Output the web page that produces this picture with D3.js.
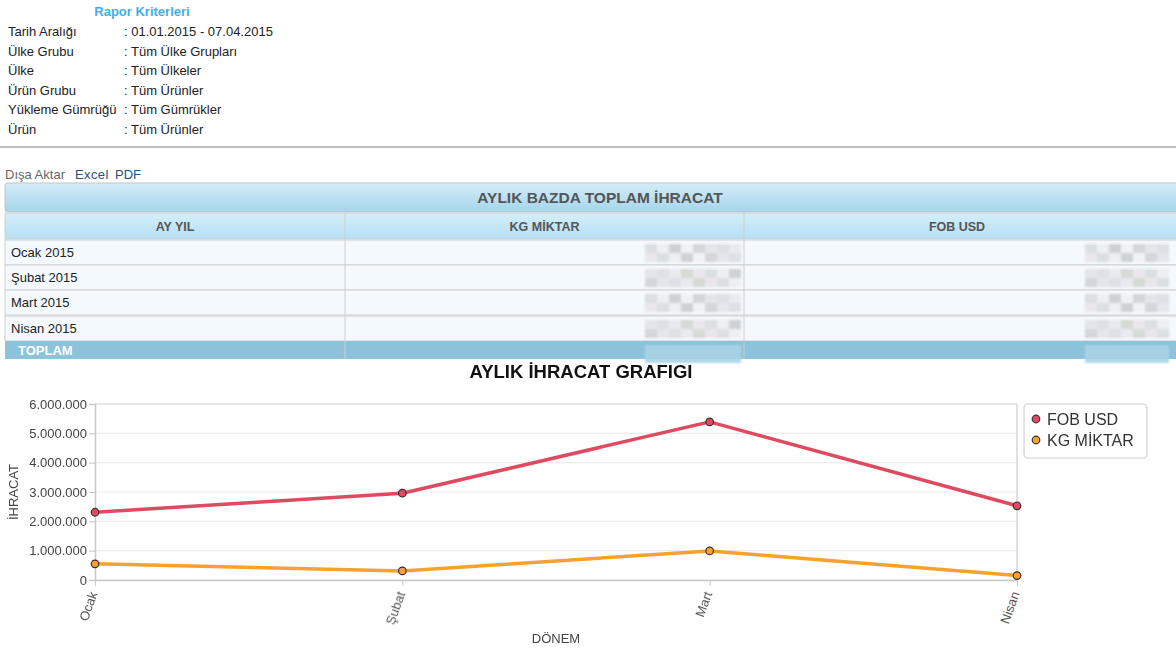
<!DOCTYPE html>
<html><head><meta charset="utf-8">
<script src="https://cdn.jsdelivr.net/npm/d3@7"></script>
<style>
body{margin:0;background:#fff;font-family:"Liberation Sans",Arial,sans-serif;}
svg{display:block}
</style></head>
<body>
<svg id="c" width="1176" height="650"></svg>
<script>
// ---- data ----
const criteriaLabels = ["Tarih Aralığı","Ülke Grubu","Ülke","Ürün Grubu","Yükleme Gümrüğü","Ürün"];
const criteriaValues = [": 01.01.2015 - 07.04.2015",": Tüm Ülke Grupları",": Tüm Ülkeler",": Tüm Ürünler",": Tüm Gümrükler",": Tüm Ürünler"];
const tableColumns = ["AY YIL","KG MİKTAR","FOB USD"];
const tableRows = ["Ocak 2015","Şubat 2015","Mart 2015","Nisan 2015"];
const months = ["Ocak","Şubat","Mart","Nisan"];
const fobUsd = [2310000, 2960000, 5390000, 2530000];
const kgMiktar = [550000, 310000, 990000, 150000];
const yTicks = [0,1000000,2000000,3000000,4000000,5000000,6000000];
const seriesNames = ["FOB USD","KG MİKTAR"];
const seriesColors = ["#de4a60","#f7a12e"];
const mosaicShades = ["#d8dbe0","#e6e8ec","#cfd2d6","#eceef1","#d3d6d0","#e1e3e8","#c9cdd2","#e9e4ea","#dadde2","#f0f2f4"];

const svg = d3.select("#c");
const font = '"Liberation Sans",Arial,sans-serif';

// ---- criteria block ----
svg.append("text").attr("x",142).attr("y",16).attr("text-anchor","middle")
  .attr("font-size",13).attr("font-weight","bold").attr("fill","#3fb0e6").text("Rapor Kriterleri");
criteriaLabels.forEach((l,i)=>{
  const y = 36 + i*19.5;
  svg.append("text").attr("x",8).attr("y",y).attr("font-size",13).attr("fill","#222").text(l);
  svg.append("text").attr("x",124).attr("y",y).attr("font-size",13).attr("fill","#222").text(criteriaValues[i]);
});
svg.append("rect").attr("x",0).attr("y",146).attr("width",1176).attr("height",2).attr("fill","#bdbdbd");

// ---- export line ----
svg.append("text").attr("x",5).attr("y",179).attr("font-size",13).attr("fill","#666").text("Dışa Aktar");
svg.append("text").attr("x",75).attr("y",179).attr("font-size",13).attr("fill","#2d4f73").attr("letter-spacing",0.4).text("Excel");
svg.append("text").attr("x",115).attr("y",179).attr("font-size",13).attr("fill","#2d4f73").text("PDF");

// ---- table ----
const defs = svg.append("defs");
const g1 = defs.append("linearGradient").attr("id","gTitle").attr("x1",0).attr("y1",0).attr("x2",0).attr("y2",1);
g1.append("stop").attr("offset","0%").attr("stop-color","#d4edf9");
g1.append("stop").attr("offset","100%").attr("stop-color","#a5d4ea");
const g2 = defs.append("linearGradient").attr("id","gHead").attr("x1",0).attr("y1",0).attr("x2",0).attr("y2",1);
g2.append("stop").attr("offset","0%").attr("stop-color","#d3eefa");
g2.append("stop").attr("offset","100%").attr("stop-color","#b6e0f3");
defs.append("filter").attr("id","blur").append("feGaussianBlur").attr("stdDeviation",1.2);

const tX = 5, tW = 1180;
const colX = [5,345,744,1185];
svg.append("rect").attr("x",tX).attr("y",183).attr("width",tW).attr("height",29).attr("rx",3)
  .attr("fill","url(#gTitle)").attr("stroke","#c3c3c3");
svg.append("text").attr("x",600).attr("y",203).attr("text-anchor","middle").attr("font-size",15.5)
  .attr("font-weight","bold").attr("fill","#555").text("AYLIK BAZDA TOPLAM İHRACAT");
svg.append("rect").attr("x",tX).attr("y",213).attr("width",tW).attr("height",26).attr("fill","url(#gHead)").attr("stroke","#d0d0d0");
tableColumns.forEach((c,i)=>{
  svg.append("text").attr("x",(colX[i]+Math.min(colX[i+1],1176))/2+ (i==2?-3:0)).attr("y",231).attr("text-anchor","middle")
    .attr("font-size",12.5).attr("font-weight","bold").attr("fill","#555").text(c);
});
const rowY = [240,265,290,316];
const rowH = 25;
tableRows.forEach((r,i)=>{
  svg.append("rect").attr("x",tX).attr("y",rowY[i]).attr("width",tW).attr("height",rowH)
    .attr("fill","#f3f9fd").attr("stroke","#cfcfcf");
  svg.append("text").attr("x",11).attr("y",rowY[i]+17).attr("font-size",13).attr("fill","#222").text(r);
});
svg.append("rect").attr("x",tX).attr("y",341).attr("width",tW).attr("height",18).attr("fill","#8cc2da");
svg.append("text").attr("x",18).attr("y",355).attr("font-size",13).attr("font-weight","bold").attr("fill","#fff").text("TOPLAM");
colX.slice(1,3).forEach(x=>{
  svg.append("line").attr("x1",x).attr("x2",x).attr("y1",213).attr("y2",359).attr("stroke","#cfcfcf");
});
// blurred (masked) numbers
const mosaic = svg.append("g").attr("filter","url(#blur)");
[[645,745],[1085,1176]].forEach(([x0,x1])=>{
  [240,265,290,316,341].forEach((y0,ri)=>{
    for(let k=0;k<Math.floor((x1-x0)/12);k++){
      for(let m=0;m<2;m++){
        mosaic.append("rect").attr("x",x0+k*12).attr("y",y0+4+m*9).attr("width",12).attr("height",9)
          .attr("fill", ri==4 ? "#a9d3e6" : mosaicShades[(k*3+m*7+ri*5)%mosaicShades.length])
          .attr("opacity",0.9);
      }
    }
  });
});

// ---- chart ----
svg.append("text").attr("x",581).attr("y",378).attr("text-anchor","middle").attr("font-size",18.5)
  .attr("font-weight","bold").attr("fill","#111").text("AYLIK İHRACAT GRAFIGI");

const pL=95, pR=1017, pT=404, pB=580;
const x = d3.scalePoint().domain(months).range([pL,pR]).padding(0);
const y = d3.scaleLinear().domain([0,6000000]).range([pB,pT]);
const fmt = d => d3.format(",")(d).replace(/,/g,".");

// grid
svg.append("g").selectAll("line").data(yTicks).join("line")
  .attr("x1",pL).attr("x2",pR).attr("y1",d=>y(d)).attr("y2",d=>y(d))
  .attr("stroke",d=>d==6000000?"#cfcfcf":"#ececec").attr("stroke-width",1.2);
svg.append("line").attr("x1",pR).attr("x2",pR).attr("y1",pT).attr("y2",pB).attr("stroke","#d6d6d6").attr("stroke-width",1.5);

// y axis
const ya = svg.append("g").attr("transform",`translate(${pL},0)`)
  .call(d3.axisLeft(y).tickValues(yTicks).tickFormat(fmt).tickSize(6).tickPadding(2));
ya.select(".domain").attr("stroke","#c8c8c8").attr("stroke-width",1.5);
ya.selectAll(".tick line").attr("stroke","#c8c8c8");
ya.selectAll("text").attr("font-size",13).attr("fill","#444").attr("font-family",font);

// x axis
const xa = svg.append("g").attr("transform",`translate(0,${pB})`)
  .call(d3.axisBottom(x).tickSize(6).tickSizeOuter(0));
xa.select(".domain").attr("stroke","#c8c8c8").attr("stroke-width",1.5);
xa.selectAll(".tick line").attr("stroke","#c8c8c8");
xa.selectAll("text").attr("font-size",13).attr("fill","#555").attr("font-family",font)
  .attr("text-anchor","end").attr("dy","0.35em")
  .attr("transform","translate(-2,12) rotate(-70)").attr("y",0).attr("x",0);

// axis titles
svg.append("text").attr("transform",`translate(18,${(pT+pB)/2}) rotate(-90)`).attr("text-anchor","middle")
  .attr("font-size",13).attr("fill","#444").text("İHRACAT");
svg.append("text").attr("x",556).attr("y",643).attr("text-anchor","middle")
  .attr("font-size",13).attr("fill","#444").text("DÖNEM");

// lines
const series = [fobUsd, kgMiktar];
const line = d3.line().x((d,i)=>x(months[i])).y(d=>y(d));
series.forEach((s,si)=>{
  svg.append("path").datum(s).attr("d",line).attr("fill","none")
    .attr("stroke",seriesColors[si]).attr("stroke-width",3.5).attr("stroke-linejoin","round");
  svg.append("g").selectAll("circle").data(s).join("circle")
    .attr("cx",(d,i)=>x(months[i])).attr("cy",d=>y(d)).attr("r",3.8)
    .attr("fill",seriesColors[si]).attr("stroke","#333").attr("stroke-width",1.2);
});

// legend
svg.append("rect").attr("x",1024).attr("y",404).attr("width",123).attr("height",54).attr("rx",4)
  .attr("fill","#fff").attr("stroke","#cfcfcf").attr("stroke-width",1.2);
seriesNames.forEach((n,i)=>{
  const cy = 419 + i*21;
  svg.append("circle").attr("cx",1036).attr("cy",cy).attr("r",3.8).attr("fill",seriesColors[i])
    .attr("stroke","#333").attr("stroke-width",1.2);
  svg.append("text").attr("x",1047).attr("y",cy+6).attr("font-size",16).attr("fill","#333").text(n);
});
</script>
</body></html>
